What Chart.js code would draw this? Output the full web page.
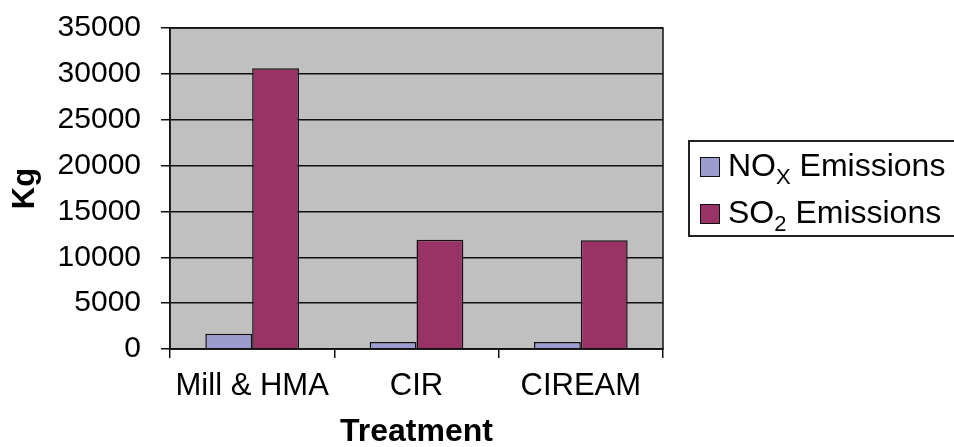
<!DOCTYPE html>
<html>
<head>
<meta charset="utf-8">
<script src="https://cdn.jsdelivr.net/npm/chart.js@4"></script>
<style>
  html, body { margin: 0; padding: 0; background: #fff; overflow: hidden; }
  #wrap { position: relative; width: 954px; height: 447px; }
  #legend {
    position: absolute; left: 688px; top: 140px; width: 290px; height: 97px;
    border: 2px solid #222; box-sizing: border-box;
    font-family: "Liberation Sans", Arial, sans-serif; font-size: 32px; color: #000;
  }
  .row { position: absolute; left: 10px; height: 36px; line-height: 36px; white-space: nowrap; }
  .sw { display: inline-block; width: 18px; height: 18px; border: 1.5px solid #111; margin-right: 8px; vertical-align: -1px; }
  sub { font-size: 22px; vertical-align: -8px; line-height: 0; }
</style>
</head>
<body>
<div id="wrap">
  <canvas id="chart" width="954" height="447"></canvas>
  <div id="legend"></div>
</div>
<script>
const categories = ['Mill & HMA', 'CIR', 'CIREAM'];
const noxValues = [1650, 750, 750];
const so2Values = [30600, 11900, 11850];
const seriesBase = ['NO', 'SO'];
const seriesSub = ['X', '2'];
const seriesTail = [' Emissions', ' Emissions'];
const seriesColors = ['#9c9ccf', '#993366'];

const FONT = '"Liberation Sans", Arial, sans-serif';

const plotFrame = {
  id: 'plotFrame',
  beforeDraw(chart) {
    const { ctx, chartArea: a } = chart;
    ctx.save();
    ctx.fillStyle = '#c0c0c0';
    ctx.fillRect(a.left, a.top, a.right - a.left, a.bottom - a.top);
    ctx.restore();
  },
  afterDraw(chart) {
    const { ctx, chartArea: a } = chart;
    ctx.save();
    ctx.strokeStyle = '#111';
    ctx.lineWidth = 1.5;
    ctx.strokeRect(a.left, a.top, a.right - a.left, a.bottom - a.top);
    ctx.restore();
  }
};

new Chart(document.getElementById('chart').getContext('2d'), {
  type: 'bar',
  data: {
    labels: categories,
    datasets: [
      { label: 'NOX Emissions', data: noxValues, backgroundColor: seriesColors[0], borderColor: '#111', borderWidth: 1.5 },
      { label: 'SO2 Emissions', data: so2Values, backgroundColor: seriesColors[1], borderColor: '#111', borderWidth: 1.5 }
    ]
  },
  options: {
    responsive: false,
    animation: false,
    layout: { padding: { top: 28, right: 291, left: 0, bottom: 0 } },
    datasets: { bar: { categoryPercentage: 0.57, barPercentage: 1.0 } },
    plugins: { legend: { display: false }, tooltip: { enabled: false } },
    scales: {
      x: {
        afterFit(scale) { scale.height = 98; scale.paddingLeft = 0; scale.paddingRight = 0; },
        grid: { offset: true, drawOnChartArea: false, drawTicks: true, tickLength: 9, color: '#111', lineWidth: 1.5 },
        border: { color: '#111', width: 1.5 },
        ticks: { color: '#000', padding: 10, font: { family: FONT, size: 31 } },
        title: { display: true, text: 'Treatment', color: '#000', padding: { top: 0, bottom: -4 }, font: { family: FONT, size: 32, weight: 'bold' } }
      },
      y: {
        min: 0, max: 35000,
        afterFit(scale) { scale.width = 170; scale.paddingTop = 0; scale.paddingBottom = 0; },
        grid: { color: '#111', lineWidth: 1.5, tickLength: 9 },
        border: { color: '#111', width: 1.5 },
        ticks: { stepSize: 5000, color: '#000', padding: 20, font: { family: FONT, size: 30 }, callback: v => String(v) },
        title: { display: true, text: 'Kg', color: '#000', padding: { top: 7, bottom: 0 }, font: { family: FONT, size: 31, weight: 'bold' } }
      }
    }
  },
  plugins: [plotFrame]
});

const legend = document.getElementById('legend');
seriesBase.forEach((base, i) => {
  const row = document.createElement('div');
  row.className = 'row';
  row.style.top = (i === 0 ? 5 : 52) + 'px';
  row.innerHTML = `<span class="sw" style="background:${seriesColors[i]}"></span>${base}<sub>${seriesSub[i]}</sub>${seriesTail[i]}`;
  legend.appendChild(row);
});
</script>
</body>
</html>
